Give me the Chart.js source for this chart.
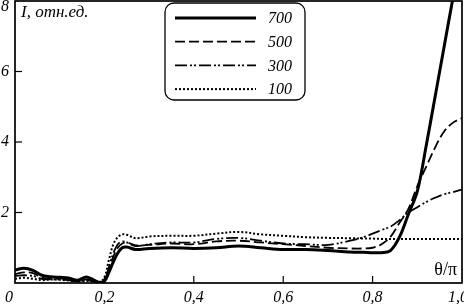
<!DOCTYPE html>
<html lang="ru">
<head>
  <meta charset="UTF-8" />
  <title>I(θ/π)</title>
  <script src="https://cdn.jsdelivr.net/npm/chart.js"></script>
  <style>
    body { margin: 0; background: #fff; }
    #fontwarm { position: absolute; left: -1000px; top: 0; font-family: "Liberation Serif", serif; }
    #fontwarm i { font-style: italic; }
  </style>
</head>
<body>
  <canvas id="chart" width="464" height="304"></canvas>
  <div id="fontwarm">0,2 θ/π <i>I, отн.ед. 700</i></div>

  <script>
    // values
    const thetaValues = [0, 0.02, 0.04, 0.06, 0.08, 0.10, 0.12, 0.14, 0.16, 0.18, 0.19, 0.20, 0.21, 0.22, 0.23, 0.24, 0.25, 0.27, 0.30, 0.35,
                         0.40, 0.45, 0.50, 0.55, 0.60, 0.65, 0.70, 0.75, 0.78, 0.80, 0.82, 0.84, 0.86, 0.88, 0.90, 0.92, 0.94, 0.96, 0.98, 1.00];
    const intensity700 = [0.37, 0.42, 0.36, 0.22, 0.18, 0.16, 0.14, 0.08, 0.17, 0.06, 0.02, 0.05, 0.3, 0.6, 0.85, 1.0, 1.02, 0.95, 0.98, 1.0,
                          0.98, 1.0, 1.05, 1.0, 0.95, 0.95, 0.92, 0.88, 0.87, 0.86, 0.86, 0.92, 1.3, 1.95, 2.6, 3.9, 5.3, 6.7, 8.1, 9.4];
    const intensity500 = [0.25, 0.3, 0.28, 0.15, 0.12, 0.13, 0.1, 0.05, 0.1, 0.04, 0.02, 0.08, 0.4, 0.75, 1.0, 1.12, 1.15, 1.07, 1.08, 1.12,
                          1.1, 1.18, 1.2, 1.15, 1.1, 1.05, 1.0, 0.98, 0.98, 1.0, 1.1, 1.31, 1.7, 2.1, 2.75, 3.3, 3.85, 4.3, 4.55, 4.68];
    const intensity300 = [0.2, 0.22, 0.2, 0.12, 0.1, 0.1, 0.08, 0.04, 0.08, 0.03, 0.02, 0.08, 0.45, 0.85, 1.1, 1.18, 1.15, 1.05, 1.1, 1.15,
                          1.15, 1.25, 1.28, 1.2, 1.12, 1.1, 1.08, 1.2, 1.3, 1.4, 1.5, 1.6, 1.78, 2.0, 2.15, 2.3, 2.42, 2.52, 2.58, 2.65];
    const intensity100 = [0.12, 0.15, 0.12, 0.08, 0.1, 0.09, 0.07, 0.04, 0.06, 0.03, 0.03, 0.15, 0.65, 1.1, 1.3, 1.38, 1.37, 1.27, 1.32, 1.34,
                          1.34, 1.4, 1.45, 1.38, 1.34, 1.3, 1.28, 1.27, 1.26, 1.26, 1.25, 1.25, 1.25, 1.25, 1.25, 1.25, 1.25, 1.25, 1.25, 1.25];
    const seriesLabels = ['700', '500', '300', '100'];
    const xTickLabels = ['0', '0,2', '0,4', '0,6', '0,8', '1,0'];
    const yTickLabels = ['', '2', '4', '6', '8'];
    const yAxisTitle = 'I, отн.ед.';
    const xAxisTitle = 'θ/π';

    const serif = '"Liberation Serif", "DejaVu Serif", serif';
    const tickFont = 'italic 16px ' + serif;

    function points(values) {
      return thetaValues.map((t, i) => ({ x: t, y: values[i] }));
    }

    // frame, inward ticks, tick labels, axis captions and the boxed legend
    const decorPlugin = {
      id: 'decor',
      afterDraw(chart) {
        const ctx = chart.ctx;
        const a = chart.chartArea;
        const xs = chart.scales.x;
        const ys = chart.scales.y;
        ctx.save();
        ctx.strokeStyle = '#000';
        ctx.fillStyle = '#000';
        ctx.setLineDash([]);

        // frame
        ctx.lineWidth = 1.7;
        ctx.strokeRect(a.left, a.top, a.right - a.left, a.bottom - a.top);

        // inward tick marks
        ctx.lineWidth = 1.2;
        xs.ticks.forEach((t) => {
          const px = xs.getPixelForValue(t.value);
          if (px <= a.left + 1 || px >= a.right - 1) return;
          ctx.beginPath();
          ctx.moveTo(px, a.bottom);
          ctx.lineTo(px, a.bottom - 7);
          ctx.stroke();
        });
        ys.ticks.forEach((t) => {
          const py = ys.getPixelForValue(t.value);
          if (py <= a.top + 1 || py >= a.bottom - 1) return;
          ctx.beginPath();
          ctx.moveTo(a.left, py);
          ctx.lineTo(a.left + 7, py);
          ctx.stroke();
        });

        // tick labels
        ctx.font = tickFont;
        ctx.textBaseline = 'alphabetic';
        ctx.textAlign = 'center';
        xs.ticks.forEach((t, i) => {
          let px = xs.getPixelForValue(t.value);
          if (i === 0) px -= 6;
          if (i === xs.ticks.length - 1) px -= 4;
          ctx.fillText(xTickLabels[i], px, a.bottom + 19);
        });
        ctx.textAlign = 'right';
        ctx.textBaseline = 'middle';
        ys.ticks.forEach((t, i) => {
          let py = ys.getPixelForValue(t.value);
          if (py < a.top + 6) py = a.top + 6;
          ctx.fillText(yTickLabels[i], 9, py);
        });

        // axis captions
        ctx.textBaseline = 'alphabetic';
        ctx.textAlign = 'left';
        ctx.font = 'italic 17px ' + serif;
        ctx.fillText(yAxisTitle, a.left + 6, a.top + 16);
        ctx.font = '18px ' + serif;
        ctx.textAlign = 'right';
        ctx.fillText(xAxisTitle, a.right - 5, a.bottom - 8);

        // legend
        const bx = 165, by = 3, bw = 140, bh = 97;
        ctx.lineWidth = 1.3;
        ctx.beginPath();
        ctx.roundRect(bx, by, bw, bh, 9);
        ctx.fillStyle = '#fff';
        ctx.fill();
        ctx.stroke();
        ctx.fillStyle = '#000';
        ctx.font = tickFont;
        ctx.textAlign = 'left';
        ctx.textBaseline = 'middle';
        chart.data.datasets.forEach((ds, i) => {
          const ry = 18 + i * 23.7;
          ctx.save();
          ctx.lineWidth = ds.borderWidth;
          ctx.setLineDash(ds.borderDash || []);
          ctx.beginPath();
          ctx.moveTo(175, ry);
          ctx.lineTo(256, ry);
          ctx.stroke();
          ctx.restore();
          ctx.fillText(ds.label, 268, ry + 1);
        });
        ctx.restore();
      }
    };

    function drawChart() {
      new Chart(document.getElementById('chart'), {
        type: 'line',
        data: {
          datasets: [
            { label: seriesLabels[0], data: points(intensity700), borderColor: '#000', borderWidth: 3, borderDash: [] },
            { label: seriesLabels[1], data: points(intensity500), borderColor: '#000', borderWidth: 1.8, borderDash: [10, 4] },
            { label: seriesLabels[2], data: points(intensity300), borderColor: '#000', borderWidth: 1.8, borderDash: [12, 3, 2, 2, 2, 3] },
            { label: seriesLabels[3], data: points(intensity100), borderColor: '#000', borderWidth: 2, borderDash: [2, 2] }
          ]
        },
        options: {
          responsive: false,
          animation: false,
          layout: { padding: { left: 15, right: 2, top: 1, bottom: 21 } },
          elements: {
            point: { radius: 0 },
            line: { tension: 0.35, borderCapStyle: 'butt' }
          },
          plugins: {
            legend: { display: false },
            tooltip: { enabled: false }
          },
          scales: {
            x: {
              type: 'linear',
              min: 0,
              max: 1,
              ticks: { stepSize: 0.2, display: false },
              grid: { display: false },
              border: { display: false },
              afterFit(scale) { scale.height = 0; scale.paddingLeft = 0; scale.paddingRight = 0; }
            },
            y: {
              min: 0,
              max: 8,
              ticks: { stepSize: 2, display: false },
              grid: { display: false },
              border: { display: false },
              afterFit(scale) { scale.width = 0; scale.paddingTop = 0; scale.paddingBottom = 0; }
            }
          }
        },
        plugins: [decorPlugin]
      });
    }

    Promise.all([
      document.fonts.load('italic 16px "Liberation Serif"'),
      document.fonts.load('16px "Liberation Serif"')
    ]).then(drawChart, drawChart);
  </script>
</body>
</html>
